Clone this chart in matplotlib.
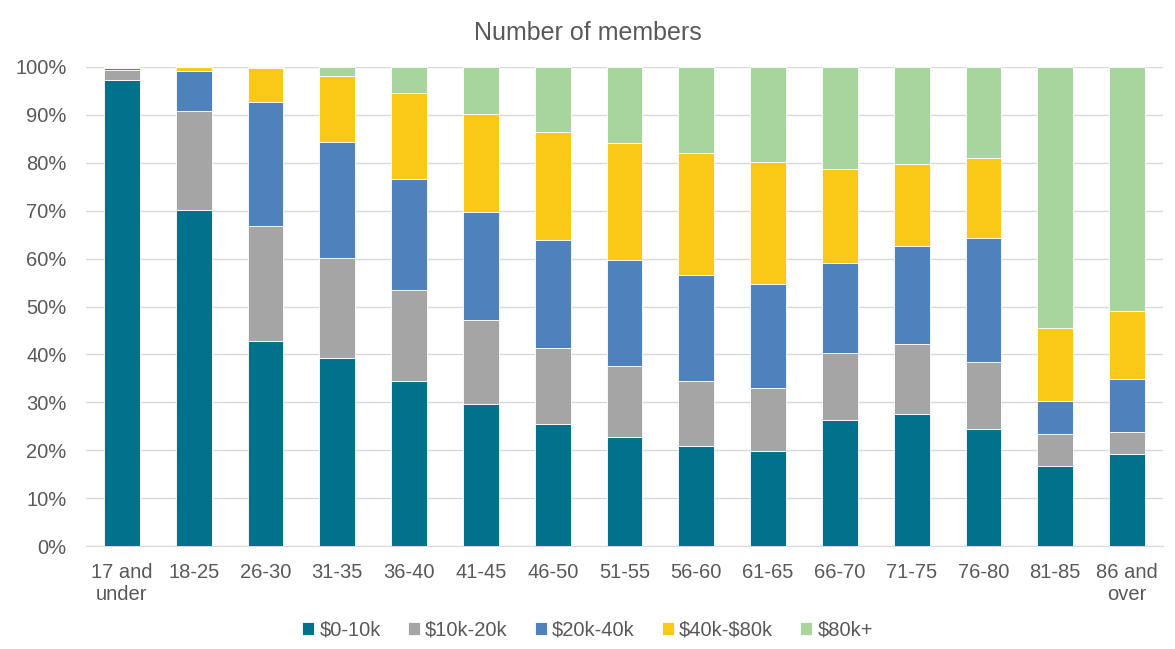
import matplotlib
matplotlib.use("Agg")
import matplotlib.pyplot as plt
import numpy as np

plt.rcParams['font.family'] = ['Liberation Sans', 'DejaVu Sans']

categories = ["17 and\nunder", "18-25", "26-30", "31-35", "36-40", "41-45", "46-50",
              "51-55", "56-60", "61-65", "66-70", "71-75", "76-80", "81-85", "86 and\nover"]
series_names = ["$0-10k", "$10k-20k", "$20k-40k", "$40k-$80k", "$80k+"]
s_0_10k   = [97.3, 70.1, 42.8, 39.3, 34.5, 29.6, 25.5, 22.8, 20.8, 19.8, 26.3, 27.6, 24.5, 16.6, 19.3]
s_10_20k  = [2.1, 20.7, 24.1, 20.9, 18.9, 17.5, 15.8, 14.8, 13.6, 13.2, 13.9, 14.5, 13.9, 6.8, 4.4]
s_20_40k  = [0.4, 8.4, 25.7, 24.1, 23.2, 22.7, 22.6, 22.2, 22.1, 21.6, 18.8, 20.5, 26.0, 6.9, 11.2]
s_40_80k  = [0.2, 0.8, 7.1, 13.9, 17.9, 20.4, 22.6, 24.3, 25.5, 25.6, 19.8, 17.1, 16.5, 15.3, 14.2]
s_80k     = [0.0, 0.0, 0.3, 1.8, 5.5, 9.8, 13.5, 15.9, 18.0, 19.8, 21.2, 20.3, 19.1, 54.4, 50.9]
colors = ["#02718A", "#A5A5A5", "#4F81BD", "#FAC816", "#A8D59D"]

data = np.array([s_0_10k, s_10_20k, s_20_40k, s_40_80k, s_80k])
data = data / data.sum(axis=0) * 100

fig = plt.figure(figsize=(11.75, 6.49), dpi=100)
ax = fig.add_axes([86/1175, 1-546/649, (1163-86)/1175, (546-67)/649])

x = np.arange(len(categories))
bottom = np.zeros(len(categories))
handles = []
for vals, name, c in zip(data, series_names, colors):
    h = ax.bar(x, vals, 0.5, bottom=bottom, color=c, edgecolor='white', linewidth=0.6,
               zorder=3)
    handles.append(h)
    bottom += vals

ax.set_xlim(-0.5, len(categories) - 0.5)
ax.set_ylim(0, 100)
ax.set_yticks(np.arange(0, 101, 10))
ax.set_yticklabels([f"{v}%" for v in range(0, 101, 10)])
ax.set_xticks(x)
ax.set_xticklabels(categories, linespacing=1.2)
ax.grid(axis='y', color='#D9D9D9', linewidth=1, zorder=0)
for s in ['top', 'right', 'left']:
    ax.spines[s].set_visible(False)
ax.spines['bottom'].set_color('#D9D9D9')
ax.tick_params(axis='both', length=0, labelsize=14.5, colors='#595959')
ax.tick_params(axis='x', pad=12)
ax.tick_params(axis='y', pad=14)

fig.text(0.5, 1 - 33/649, "Number of members", ha='center', va='center',
         fontsize=18, color='#595959')

legend_labels = [n.replace('$', r'\$') for n in series_names]
fig.legend(handles=handles, labels=legend_labels, loc='center', bbox_to_anchor=(0.5, 1 - 630/649),
           ncol=5, frameon=False, fontsize=14.5, handlelength=0.6, handleheight=0.6,
           handletextpad=0.25, columnspacing=1.35, labelcolor='#595959')

fig.savefig("out.png", dpi=100)
